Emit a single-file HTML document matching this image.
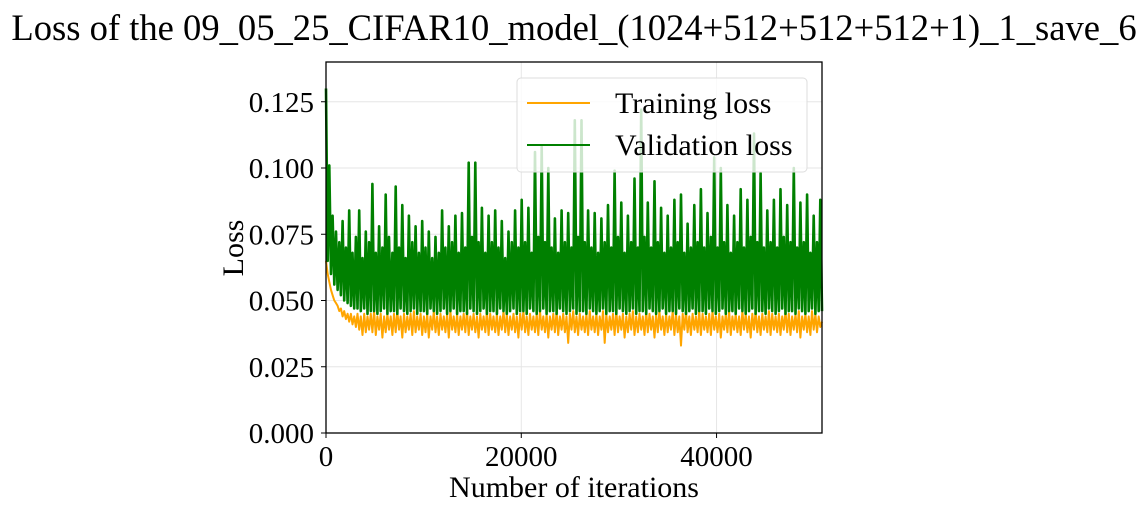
<!DOCTYPE html>
<html><head><meta charset="utf-8"><style>
html,body{margin:0;padding:0;background:#fff;}
svg{display:block;font-family:"Liberation Serif","DejaVu Serif",serif;}
</style></head><body>
<svg id="chart" width="1148" height="512">
<text x="574" y="40" font-size="36.6" text-anchor="middle">Loss of the 09_05_25_CIFAR10_model_(1024+512+512+512+1)_1_save_6</text>
<g id="grid"></g>
<g id="series"></g>
<rect x="326" y="62" width="496" height="371" fill="none" stroke="#000" stroke-width="1.3"/>
<g id="ticks"></g>
<text x="574" y="497" font-size="30" text-anchor="middle">Number of iterations</text>
<text transform="translate(243,248) rotate(-90)" font-size="30" text-anchor="middle">Loss</text>
<g>
<rect x="517" y="78" width="290" height="94" rx="4" fill="#fff" fill-opacity="0.8" stroke="#ddd"/>
<line x1="527" y1="103" x2="590" y2="103" stroke="#FFA500" stroke-width="2"/>
<text x="615" y="113" font-size="30">Training loss</text>
<line x1="527" y1="145" x2="590" y2="145" stroke="#008000" stroke-width="2"/>
<text x="615" y="155" font-size="30">Validation loss</text>
</g>
</svg>
<script>
const xMax = 50800;
const yMax = 0.14;
const xTicks = [0, 20000, 40000];
const yTicks = [0, 0.025, 0.05, 0.075, 0.1, 0.125];
const yTickLabels = ["0.000","0.025","0.050","0.075","0.100","0.125"];
const trainLoss = [0.065,0.060,0.057,0.054,0.052,0.050,0.049,0.048,0.046,0.047,0.044,0.046,0.043,0.045,0.042,0.045,0.041,0.044,0.040,0.045,
0.039,0.044,0.037,0.045,0.038,0.044,0.039,0.045,0.038,0.046,0.037,0.044,0.039,0.045,0.036,0.044,0.038,0.045,0.039,0.044,
0.037,0.045,0.038,0.046,0.039,0.044,0.036,0.045,0.038,0.044,0.039,0.045,0.037,0.046,0.038,0.044,0.039,0.045,0.037,0.044,
0.038,0.045,0.036,0.044,0.039,0.046,0.038,0.044,0.037,0.045,0.039,0.044,0.038,0.045,0.036,0.046,0.039,0.044,0.038,0.045,
0.037,0.044,0.039,0.045,0.038,0.046,0.037,0.044,0.039,0.045,0.038,0.044,0.036,0.045,0.039,0.044,0.038,0.046,0.037,0.045,
0.039,0.044,0.038,0.045,0.037,0.044,0.039,0.046,0.038,0.045,0.037,0.044,0.039,0.045,0.038,0.044,0.036,0.045,0.039,0.046,
0.038,0.044,0.037,0.045,0.039,0.044,0.038,0.045,0.037,0.046,0.039,0.044,0.038,0.045,0.036,0.044,0.039,0.045,0.038,0.046,
0.037,0.044,0.039,0.045,0.038,0.044,0.034,0.045,0.039,0.046,0.038,0.044,0.037,0.045,0.039,0.044,0.038,0.045,0.037,0.046,
0.039,0.044,0.038,0.045,0.037,0.044,0.039,0.046,0.034,0.045,0.038,0.044,0.039,0.045,0.037,0.046,0.038,0.044,0.039,0.045,
0.036,0.044,0.038,0.045,0.039,0.046,0.037,0.044,0.038,0.045,0.039,0.044,0.037,0.046,0.038,0.045,0.039,0.044,0.036,0.045,
0.038,0.046,0.039,0.044,0.037,0.045,0.038,0.044,0.039,0.046,0.037,0.045,0.038,0.044,0.033,0.045,0.039,0.046,0.038,0.044,
0.037,0.045,0.039,0.044,0.038,0.046,0.037,0.045,0.039,0.044,0.038,0.045,0.037,0.046,0.039,0.044,0.038,0.045,0.036,0.044,
0.039,0.045,0.038,0.046,0.037,0.044,0.039,0.045,0.038,0.044,0.037,0.046,0.039,0.045,0.038,0.044,0.036,0.045,0.039,0.046,
0.038,0.044,0.037,0.045,0.039,0.044,0.038,0.046,0.037,0.045,0.039,0.044,0.038,0.045,0.037,0.044,0.039,0.046,0.038,0.045,
0.037,0.044,0.039,0.045,0.038,0.046,0.036,0.044,0.039,0.045,0.038,0.044,0.037,0.046,0.039,0.045,0.038,0.044,0.040,0.042];
const valLoss = [0.130,0.065,0.101,0.060,0.082,0.056,0.076,0.054,0.072,0.052,0.080,0.050,0.070,0.049,0.084,0.048,0.068,0.047,0.074,0.047,
0.084,0.046,0.066,0.047,0.076,0.045,0.072,0.046,0.094,0.046,0.068,0.045,0.078,0.046,0.070,0.047,0.090,0.045,0.074,0.046,
0.068,0.046,0.093,0.045,0.070,0.047,0.086,0.046,0.066,0.045,0.082,0.046,0.072,0.047,0.078,0.045,0.068,0.046,0.080,0.046,
0.070,0.045,0.076,0.047,0.066,0.046,0.074,0.045,0.068,0.046,0.084,0.047,0.070,0.045,0.078,0.046,0.072,0.047,0.082,0.045,
0.068,0.046,0.083,0.046,0.070,0.045,0.102,0.047,0.074,0.046,0.102,0.045,0.072,0.046,0.085,0.047,0.068,0.045,0.082,0.046,
0.072,0.046,0.084,0.045,0.070,0.047,0.080,0.046,0.066,0.045,0.076,0.046,0.072,0.047,0.084,0.045,0.070,0.046,0.088,0.046,
0.072,0.045,0.085,0.047,0.068,0.046,0.106,0.045,0.074,0.046,0.108,0.047,0.072,0.045,0.100,0.046,0.070,0.046,0.081,0.045,
0.068,0.047,0.084,0.046,0.072,0.045,0.083,0.046,0.070,0.047,0.118,0.045,0.074,0.046,0.118,0.046,0.072,0.045,0.084,0.047,
0.070,0.046,0.083,0.045,0.068,0.046,0.081,0.047,0.072,0.045,0.086,0.046,0.070,0.046,0.099,0.045,0.074,0.047,0.087,0.046,
0.068,0.045,0.082,0.046,0.072,0.047,0.096,0.045,0.070,0.046,0.122,0.046,0.074,0.045,0.087,0.047,0.070,0.046,0.095,0.045,
0.072,0.046,0.085,0.047,0.068,0.045,0.082,0.046,0.070,0.046,0.088,0.045,0.072,0.047,0.090,0.046,0.068,0.045,0.079,0.046,
0.070,0.047,0.086,0.045,0.072,0.046,0.092,0.046,0.070,0.045,0.083,0.047,0.074,0.046,0.104,0.045,0.070,0.046,0.100,0.047,
0.072,0.045,0.086,0.046,0.068,0.046,0.082,0.045,0.072,0.047,0.092,0.046,0.070,0.045,0.088,0.046,0.074,0.047,0.113,0.045,
0.072,0.046,0.098,0.046,0.070,0.045,0.084,0.047,0.072,0.046,0.088,0.045,0.070,0.046,0.092,0.047,0.074,0.045,0.086,0.046,
0.072,0.046,0.100,0.045,0.070,0.047,0.087,0.046,0.072,0.045,0.090,0.046,0.068,0.047,0.082,0.045,0.072,0.046,0.088,0.046];
const NS = "http://www.w3.org/2000/svg";
const L = 326, R = 822, T = 62, B = 433;
function xs(v){ return L + v / xMax * (R - L); }
function ys(v){ return B - v / yMax * (B - T); }
const grid = document.getElementById('grid');
const ticks = document.getElementById('ticks');
xTicks.forEach(t => {
  const g = document.createElementNS(NS,'line');
  g.setAttribute('x1',xs(t)); g.setAttribute('x2',xs(t)); g.setAttribute('y1',T); g.setAttribute('y2',B);
  g.setAttribute('stroke','#e6e6e6'); g.setAttribute('stroke-width','1');
  
  
  grid.appendChild(g);
  const tk = document.createElementNS(NS,'line');
  tk.setAttribute('x1',xs(t)); tk.setAttribute('x2',xs(t)); tk.setAttribute('y1',B); tk.setAttribute('y2',B+5);
  tk.setAttribute('stroke','#000');
  
  
  ticks.appendChild(tk);
  const tx = document.createElementNS(NS,'text');
  tx.setAttribute('x',xs(t)); tx.setAttribute('y',466); tx.setAttribute('font-size','29'); tx.setAttribute('text-anchor','middle');
  tx.textContent = String(t);
  
  
  ticks.appendChild(tx);
});
yTicks.forEach((t,i) => {
  const g = document.createElementNS(NS,'line');
  g.setAttribute('x1',L); g.setAttribute('x2',R); g.setAttribute('y1',ys(t)); g.setAttribute('y2',ys(t));
  g.setAttribute('stroke','#e6e6e6'); g.setAttribute('stroke-width','1');
  
  
  grid.appendChild(g);
  const tk = document.createElementNS(NS,'line');
  tk.setAttribute('x1',L-5); tk.setAttribute('x2',L); tk.setAttribute('y1',ys(t)); tk.setAttribute('y2',ys(t));
  tk.setAttribute('stroke','#000');
  
  
  ticks.appendChild(tk);
  const tx = document.createElementNS(NS,'text');
  tx.setAttribute('x',L-12); tx.setAttribute('y',ys(t)+10); tx.setAttribute('font-size','29'); tx.setAttribute('text-anchor','end');
  tx.textContent = yTickLabels[i];
  
  
  ticks.appendChild(tx);
});
function drawSeries(vals, color, name, w){
  const n = vals.length;
  const pts = vals.map((v,i) => xs(i/(n-1)*xMax).toFixed(1)+','+ys(v).toFixed(1)).join(' ');
  const p = document.createElementNS(NS,'polyline');
  p.setAttribute('points',pts); p.setAttribute('fill','none'); p.setAttribute('stroke',color); p.setAttribute('stroke-width',w);
  p.setAttribute('stroke-linejoin','round');
  
  
  document.getElementById('series').appendChild(p);
}
drawSeries(trainLoss,'#FFA500','training-loss-line','2');
drawSeries(valLoss,'#008000','validation-loss-line','2.6');
</script>
</body></html>
